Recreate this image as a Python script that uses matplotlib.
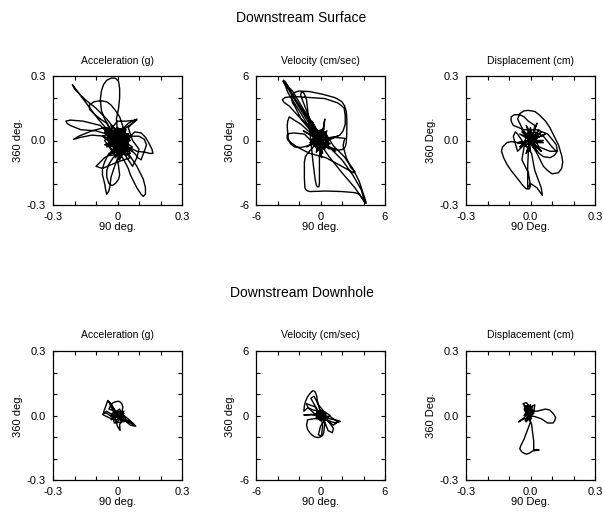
import numpy as np
import matplotlib
matplotlib.use("Agg")
import matplotlib.pyplot as plt

plt.rcParams['font.family'] = ['Liberation Sans', 'DejaVu Sans']

# particle motion paths, horizontal (90 deg.) vs vertical-plane (360 deg.) components
surf_acc = [
    (0.00, 0.00), (0.03, 0.02), (-0.02, 0.04), (-0.04, -0.01), (0.01, -0.05), (0.05, -0.01),
    (0.02, 0.05), (-0.05, 0.03), (-0.03, -0.04), (0.03, -0.06), (0.06, 0.02), (0.00, 0.06),
    (-0.06, 0.00), (-0.01, -0.07), (0.04, -0.03), (0.02, 0.03), (-0.03, 0.02), (0.01, -0.02),
    (-0.03, 0.05), (-0.06, 0.10), (-0.075, 0.14), (-0.08, 0.19), (-0.075, 0.23), (-0.065, 0.26),
    (-0.05, 0.28), (-0.03, 0.29), (-0.01, 0.29), (0.005, 0.275), (0.01, 0.24), (0.01, 0.20),
    (0.005, 0.15), (-0.005, 0.10), (0.00, 0.04),
    (0.04, 0.00), (-0.02, -0.03), (0.03, 0.04), (-0.04, 0.02), (0.02, -0.05),
    (-0.03, 0.03), (-0.09, 0.10), (-0.15, 0.18), (-0.21, 0.26), (-0.20, 0.24), (-0.15, 0.19),
    (-0.10, 0.15), (-0.05, 0.10), (-0.01, 0.05),
    (0.03, -0.02), (-0.03, -0.05), (0.05, 0.03), (-0.02, 0.01),
    (-0.08, 0.07), (-0.16, 0.09), (-0.22, 0.095), (-0.24, 0.09), (-0.235, 0.08), (-0.22, 0.07),
    (-0.17, 0.05), (-0.10, 0.045), (-0.05, 0.03), (0.00, 0.09), (0.04, 0.09), (0.09, 0.095),
    (0.04, 0.06), (0.01, 0.01), (-0.04, -0.02), (0.04, 0.02), (0.00, -0.04),
    (-0.06, 0.02), (-0.12, 0.025), (-0.17, 0.015), (-0.205, 0.005), (-0.18, 0.02), (-0.12, 0.045),
    (-0.06, 0.06), (-0.02, 0.02),
    (-0.05, 0.08), (-0.08, 0.10), (-0.11, 0.125), (-0.13, 0.145), (-0.13, 0.165),
    (-0.11, 0.18), (-0.08, 0.185), (-0.05, 0.18), (-0.03, 0.165), (-0.01, 0.14), (0.01, 0.11),
    (0.02, 0.08), (0.03, 0.05),
    (-0.03, 0.00), (0.02, -0.03), (0.05, 0.01),
    (0.08, 0.04), (0.11, 0.035), (0.13, 0.015), (0.145, -0.01), (0.16, -0.04), (0.165, -0.06),
    (0.15, -0.06), (0.13, -0.055), (0.09, -0.05), (0.05, -0.03), (0.02, 0.00),
    (0.06, 0.02), (0.10, 0.02), (0.125, 0.005), (0.135, -0.02), (0.125, -0.05), (0.115, -0.075),
    (0.11, -0.09), (0.095, -0.08), (0.08, -0.06), (0.03, -0.02), (-0.02, 0.03), (0.01, -0.04),
    (-0.04, -0.06),
    (-0.06, -0.10), (-0.07, -0.13), (-0.07, -0.16), (-0.06, -0.20), (-0.055, -0.23),
    (-0.05, -0.25), (-0.04, -0.235), (-0.035, -0.21), (-0.03, -0.17), (-0.01, -0.11), (0.01, -0.06),
    (0.03, -0.09), (0.05, -0.13), (0.06, -0.16), (0.08, -0.20), (0.09, -0.22), (0.11, -0.25),
    (0.12, -0.26), (0.13, -0.25), (0.13, -0.22), (0.12, -0.18), (0.09, -0.12), (0.05, -0.06),
    (0.02, -0.02),
    (-0.03, -0.01), (0.03, 0.03), (-0.01, -0.05),
    (-0.06, -0.08), (-0.10, -0.12), (-0.07, -0.13), (0.00, -0.10), (0.06, -0.08), (0.02, -0.04),
    (-0.02, -0.08), (-0.04, -0.11), (-0.05, -0.14), (-0.05, -0.17), (-0.04, -0.20),
    (-0.025, -0.21), (-0.01, -0.20), (0.005, -0.18), (0.01, -0.16), (0.005, -0.12), (0.00, -0.09),
    (0.03, -0.06), (0.07, -0.12), (0.09, -0.08), (0.10, -0.04), (0.07, 0.00),
    (0.05, 0.06), (0.09, 0.10), (0.05, 0.08), (0.00, 0.03),
    (0.05, -0.05), (-0.04, 0.04), (0.02, -0.08), (-0.06, 0.05), (0.07, -0.03), (-0.02, -0.06),
    (0.03, 0.06), (-0.07, 0.02), (0.04, -0.07), (0.00, 0.05), (-0.05, -0.03), (0.06, 0.00),
    (-0.03, 0.07), (0.01, -0.09), (0.05, 0.03), (-0.06, -0.02), (0.03, -0.04), (-0.02, 0.06),
    (0.06, -0.06), (-0.04, -0.07), (0.02, 0.02), (-0.05, 0.06), (0.07, -0.05), (0.00, -0.03),
    (-0.03, 0.03), (0.04, 0.05), (-0.01, -0.08), (0.05, -0.02), (-0.06, 0.04), (0.02, -0.05),
    (0.03, -0.01), (-0.02, 0.02), (0.02, 0.04), (-0.03, -0.02), (0.04, -0.04), (0.00, 0.00),
]

surf_vel = [
    (0.0, 0.0), (0.6, 0.5), (-0.5, 0.7), (-0.7, -0.4), (0.4, -0.8), (0.8, 0.2), (0.1, 0.9),
    (-0.8, 0.1), (-0.3, -0.9), (0.7, -0.5), (0.5, 0.7), (-0.6, -0.2), (0.0, -0.5), (0.4, 0.4),
    (-0.3, 0.4),
    (-1.0, 1.5), (-1.8, 2.8), (-2.6, 4.1), (-3.0, 4.8), (-3.3, 5.25), (-3.5, 5.5), (-3.45, 5.6),
    (-3.3, 5.5), (-3.1, 5.2), (-2.9, 4.8), (-2.5, 4.1), (-1.8, 3.0), (-1.0, 1.8), (-0.3, 0.6),
    (0.5, 0.1), (-0.4, -0.5), (0.3, 0.8), (-0.7, 0.3), (0.2, -0.6),
    (0.8, -0.6), (1.6, -0.9), (2.0, -0.85), (2.3, -0.6), (2.4, -0.2), (2.45, 0.8), (2.45, 2.0),
    (2.4, 2.7), (2.25, 3.2), (2.0, 3.6), (1.6, 3.85), (1.3, 4.0), (0.2, 4.3), (-1.0, 4.55),
    (-2.0, 4.6), (-2.35, 4.5), (-2.6, 4.2), (-2.7, 3.9), (-2.6, 3.5), (-2.4, 3.2), (-1.8, 2.0),
    (-1.0, 1.0), (-0.2, 0.1),
    (0.6, 0.4), (-0.5, -0.3), (0.2, 0.6),
    (-0.6, 1.2), (-1.2, 2.5), (-1.5, 3.3), (-1.7, 3.8), (-1.85, 4.25), (-1.8, 4.45),
    (-1.6, 4.5), (-1.45, 4.2), (-1.3, 3.8), (-1.1, 2.0), (-0.9, 0.0), (-0.7, -2.0), (-0.5, -3.6),
    (-0.4, -4.1), (-0.3, -4.3), (-0.15, -4.3), (-0.1, -4.0), (-0.1, -3.0), (-0.1, -1.5),
    (0.0, -0.3),
    (0.5, 0.6), (-0.6, 0.2), (0.3, -0.7), (0.7, 0.3),
    (1.2, -0.5), (2.2, -1.5), (3.0, -2.6), (3.6, -3.8), (4.0, -5.0), (4.2, -5.6), (4.25, -5.85),
    (4.1, -5.75), (3.9, -5.4), (3.6, -5.0), (3.2, -4.85), (2.0, -4.75), (0.5, -4.7),
    (-1.0, -4.75), (-1.3, -4.65), (-1.45, -4.4), (-1.5, -3.5), (-1.5, -2.0), (-1.4, -1.5),
    (-1.2, -1.2), (-0.5, -0.4),
    (-1.5, 0.6), (-2.5, 0.7), (-2.9, 0.65), (-3.1, 0.5), (-3.1, 0.2), (-3.0, 0.0), (-2.2, -0.6),
    (-1.0, -1.2), (0.5, -1.6), (1.8, -2.3), (2.7, -2.8), (3.1, -3.0), (3.2, -2.9), (2.8, -2.5),
    (2.4, -1.6), (2.1, -0.5), (2.2, 0.0), (2.3, 0.2), (1.2, 0.3), (0.3, 0.1),
    (-1.0, 1.2), (-2.0, 2.2), (-2.9, 3.2), (-3.4, 3.55), (-3.55, 3.8), (-3.3, 4.0), (-2.5, 4.1),
    (-1.0, 4.0), (0.4, 3.9), (1.6, 3.5), (2.0, 3.2), (2.2, 3.0), (2.3, 2.3), (2.3, 1.5),
    (2.1, 0.9), (1.8, 0.5), (0.9, 0.1),
    (-0.5, 0.3), (-1.8, 1.5), (-2.6, 2.0), (-2.9, 2.2), (-3.05, 1.8), (-3.1, 1.3), (-3.0, 0.2),
    (-2.8, -0.3), (-2.4, -0.6), (-1.8, -0.65), (-1.2, -0.5), (0.0, 0.0),
    (-0.2, 0.4), (-1.4, 2.6), (-2.6, 4.6), (-3.4, 5.4), (-3.0, 4.4), (-2.0, 2.8), (-0.6, 0.5),
    (0.8, -1.5), (2.0, -3.0), (3.2, -4.4), (4.1, -5.7), (3.8, -4.6), (3.0, -3.2), (2.0, -1.8),
    (1.0, -0.8), (0.2, -0.1),
    (-0.8, 1.8), (0.1, 0.2), (0.4, 2.0), (0.2, 0.1), (1.6, 0.4), (0.1, -0.1), (1.4, -1.0),
    (0.0, -0.2), (0.1, -1.6), (-0.1, 0.0), (-1.3, -0.6), (-0.2, 0.1), (-1.6, 0.9), (0.0, 0.0),
    (0.5, 0.5), (-0.4, 0.6), (-0.6, -0.4), (0.4, -0.6), (0.6, 0.2), (-0.2, 0.7), (-0.6, 0.0),
    (0.1, -0.7), (0.3, 0.3), (0.8, -0.8), (-0.9, 0.6), (0.3, 1.1), (-0.4, -1.1), (1.0, 0.3),
    (-1.0, -0.2), (0.6, 0.9), (-0.2, -0.7), (0.9, -0.3), (-0.7, 0.9), (0.2, -1.2), (0.0, 0.0),
]

surf_disp = [
    (0.00, 0.00), (0.03, 0.01), (-0.02, 0.03), (0.01, -0.03), (0.035, 0.02), (-0.03, -0.01),
    (0.00, 0.06), (0.01, 0.00), (0.05, 0.04), (0.00, -0.01), (0.06, -0.01), (0.00, 0.00),
    (0.04, -0.04), (-0.01, 0.01), (0.00, -0.05), (-0.01, 0.00), (-0.05, -0.03), (0.00, 0.01),
    (-0.05, 0.03), (0.00, 0.00), (-0.02, 0.07), (0.01, 0.02), (0.02, 0.07),
    (-0.01, 0.09), (-0.03, 0.11), (-0.05, 0.12), (-0.075, 0.12), (-0.09, 0.11), (-0.09, 0.09),
    (-0.08, 0.07), (-0.03, 0.05), (0.03, 0.05), (0.08, 0.03), (0.105, 0.0), (0.12, -0.02),
    (0.125, -0.05), (0.11, -0.07), (0.09, -0.08), (0.06, -0.075), (0.04, -0.06), (0.01, -0.02),
    (-0.03, 0.04), (-0.05, 0.08), (-0.06, 0.10), (-0.05, 0.125), (-0.03, 0.138), (-0.01, 0.14),
    (0.02, 0.135), (0.04, 0.12), (0.07, 0.09), (0.09, 0.06), (0.11, 0.02), (0.13, -0.02),
    (0.145, -0.07), (0.15, -0.10), (0.145, -0.13), (0.13, -0.15), (0.10, -0.155),
    (0.08, -0.14), (0.06, -0.12), (0.03, -0.06), (0.00, -0.01),
    (-0.02, -0.02), (-0.06, -0.01), (-0.09, -0.005), (-0.11, -0.01), (-0.13, -0.03),
    (-0.135, -0.05), (-0.125, -0.08), (-0.11, -0.11), (-0.09, -0.14), (-0.07, -0.165),
    (-0.05, -0.19), (-0.035, -0.21), (-0.02, -0.225), (-0.005, -0.225), (0.00, -0.21),
    (-0.005, -0.18), (-0.01, -0.15), (-0.025, -0.12), (-0.04, -0.09), (-0.03, -0.03),
    (0.00, 0.00),
    (-0.01, -0.05), (-0.013, -0.12), (-0.013, -0.22), (0.00, -0.20), (0.03, -0.22),
    (0.055, -0.255), (0.05, -0.22), (0.02, -0.14), (0.005, -0.06),
    (-0.04, 0.00), (-0.06, 0.03), (-0.07, 0.04), (-0.08, 0.02), (-0.075, 0.00), (-0.06, -0.05),
    (-0.03, -0.02),
    (0.02, 0.04), (0.06, 0.02), (0.10, -0.03), (0.12, -0.05), (0.09, -0.05), (0.04, -0.03),
    (-0.01, 0.05), (0.01, 0.00), (0.04, 0.05), (0.00, 0.00), (0.06, 0.00), (0.01, -0.01),
    (0.03, -0.05), (-0.01, 0.00), (-0.04, -0.02), (0.00, 0.01), (-0.04, 0.04), (0.00, 0.00),
    (0.03, 0.08), (0.00, 0.00), (0.07, 0.03), (0.00, 0.00), (0.05, -0.05), (0.00, 0.00),
    (-0.02, -0.06), (0.00, 0.00), (-0.06, -0.01), (0.00, 0.00), (-0.04, 0.05), (0.01, 0.01),
    (0.02, -0.02), (-0.02, 0.02), (0.03, 0.03), (-0.01, -0.03), (0.00, 0.00),
]

hole_acc = [
    (0.00, 0.00), (0.02, 0.01), (-0.02, 0.02), (-0.01, -0.02), (0.03, -0.01), (0.01, 0.03),
    (-0.03, 0.00), (0.00, -0.03), (0.03, 0.02), (-0.02, -0.01),
    (-0.05, 0.01), (-0.065, 0.015), (-0.045, 0.07), (-0.03, 0.055), (-0.01, 0.02),
    (-0.04, 0.03), (-0.03, 0.05), (-0.02, 0.06), (0.00, 0.066), (0.01, 0.065), (0.02, 0.055),
    (0.025, 0.04), (0.02, 0.01),
    (0.04, -0.02), (0.07, -0.035), (0.085, -0.05), (0.06, -0.045), (0.03, -0.02),
    (0.01, -0.04), (0.012, -0.07), (0.00, -0.05), (-0.01, -0.02),
    (-0.04, -0.01), (-0.07, 0.005), (-0.05, 0.02), (-0.02, 0.00),
    (0.03, 0.00), (0.06, -0.025), (0.08, -0.045), (0.05, -0.03), (0.00, -0.01),
    (-0.03, 0.04), (-0.04, 0.065), (-0.02, 0.035), (0.00, 0.00), (0.02, -0.03),
    (-0.015, -0.035), (-0.025, 0.01), (0.015, 0.02), (0.03, -0.03), (-0.01, 0.01),
    (0.02, 0.00), (-0.02, 0.03), (0.01, -0.02), (0.03, 0.01), (-0.03, -0.02), (0.00, 0.00),
]

hole_vel = [
    (0.0, 0.0), (0.4, 0.3), (-0.3, 0.4), (-0.4, -0.3), (0.3, -0.4), (0.5, 0.1), (0.0, 0.5),
    (-0.5, 0.1), (0.0, -0.5), (0.4, 0.2),
    (-0.6, 0.5), (-1.2, 0.7), (-1.55, 0.4), (-1.5, 0.9), (-1.4, 1.3), (-1.2, 1.75), (-1.0, 2.0),
    (-0.85, 2.2), (-0.7, 2.3), (-0.55, 2.25), (-0.45, 2.1), (-0.35, 1.8), (-0.3, 1.4),
    (-0.1, 0.6), (0.2, 0.0),
    (0.8, -0.3), (1.4, -0.4), (1.85, -0.55), (1.4, -0.7), (0.8, -0.5), (0.2, -0.2),
    (-0.6, -0.3), (-1.2, -0.4), (-1.3, -0.9), (-1.2, -1.3), (-1.0, -1.6), (-0.75, -1.85),
    (-0.5, -2.0), (-0.25, -2.05), (0.0, -2.0), (0.2, -1.85), (0.3, -1.6), (0.4, -0.8),
    (0.2, -0.1),
    (0.8, -0.6), (1.2, -1.2), (1.1, -1.6), (0.7, -1.4), (0.4, -0.6),
    (-0.5, 0.8), (-1.3, 1.1), (-1.2, 0.8), (-0.6, 0.2), (0.5, -0.4), (1.2, -0.9), (1.6, -0.6),
    (0.9, -0.1), (0.0, 0.0),
    (-0.9, 1.6), (-0.6, 1.8), (-0.2, 1.0), (0.3, 0.4), (0.9, 0.0), (0.5, -0.3), (0.0, -1.0),
    (-0.2, -1.8), (0.1, -1.9), (0.2, -0.9), (0.0, 0.1),
    (-1.55, 0.05), (-0.8, 0.1), (0.3, -0.2), (-0.2, 0.3), (0.2, 0.2), (0.6, -0.2),
    (-0.3, -0.2), (0.1, 0.4), (0.0, 0.0),
]

hole_disp = [
    (0.00, 0.00), (-0.02, 0.02), (-0.01, -0.02), (0.01, 0.03), (-0.03, 0.00), (0.00, 0.05),
    (-0.02, -0.03), (0.01, 0.01), (-0.035, 0.055), (-0.02, 0.06), (0.00, 0.04), (0.02, 0.05),
    (0.015, 0.01), (-0.01, -0.01), (-0.04, -0.02), (-0.055, -0.03), (-0.03, -0.01),
    (0.00, 0.02), (0.03, 0.02),
    (0.05, 0.025), (0.07, 0.03), (0.09, 0.025), (0.10, 0.015), (0.112, 0.0), (0.117, -0.01),
    (0.112, -0.025), (0.105, -0.035), (0.08, -0.035), (0.05, -0.015), (0.02, -0.005),
    (-0.01, 0.00),
    (0.00, -0.03), (-0.015, -0.07), (-0.03, -0.11), (-0.045, -0.14), (-0.05, -0.155),
    (-0.04, -0.17), (-0.02, -0.18), (-0.005, -0.175), (0.01, -0.165), (0.04, -0.16),
    (0.015, -0.16), (0.015, -0.12), (0.01, -0.08), (0.005, -0.04), (-0.01, -0.01),
    (-0.03, 0.03), (-0.01, 0.05), (0.00, 0.00), (-0.025, -0.025), (0.01, 0.02),
    (-0.02, 0.04), (0.005, -0.015), (-0.02, 0.01), (0.01, 0.04), (-0.03, 0.045),
    (0.0, -0.02), (-0.01, 0.00),
]

row_titles = ["Downstream Surface", "Downstream Downhole"]
panel_titles = ["Acceleration (g)", "Velocity (cm/sec)", "Displacement (cm)"]
xlabels = ["90 deg.", "90 deg.", "90 Deg."]
ylabels = ["360 deg.", "360 deg.", "360 Deg."]
limits = [0.3, 6, 0.3]
tick_text_x = [["-0.3", "0", "0.3"], ["-6", "0", "6"], ["-0.3", "0.0", "0.3"]]
tick_text_y = [["-0.3", "0.0", "0.3"], ["-6", "0", "6"], ["-0.3", "0.0", "0.3"]]
paths = [[surf_acc, surf_vel, surf_disp], [hole_acc, hole_vel, hole_disp]]

fig = plt.figure(figsize=(6.03, 5.16), dpi=100)

W, H = 603.0, 516.0
lefts = [53, 256, 466]
tops = [76, 351]
size = 129

for r in range(2):
    fig.text(0.5, 1 - (18 + 275 * r) / H, row_titles[r], ha='center', va='center', fontsize=10)
    for c in range(3):
        ax = fig.add_axes([lefts[c] / W, 1 - (tops[r] + size) / H, size / W, size / H])
        pts = np.array(paths[r][c])
        ax.plot(pts[:, 0], pts[:, 1], color='black', lw=1.0)
        lim = limits[c]
        ticks = np.linspace(-lim, lim, 7)
        xl = [tick_text_x[c][0], '', '', tick_text_x[c][1], '', '', tick_text_x[c][2]]
        yl = [tick_text_y[c][0], '', '', tick_text_y[c][1], '', '', tick_text_y[c][2]]
        ax.set_xlim(-lim, lim)
        ax.set_ylim(-lim, lim)
        ax.set_xticks(ticks)
        ax.set_xticklabels(xl)
        ax.set_yticks(ticks)
        ax.set_yticklabels(yl)
        ax.tick_params(direction='in', top=True, right=True, length=3, width=0.8,
                       labelsize=8, pad=5)
        for s in ax.spines.values():
            s.set_linewidth(0.9)
        ax.set_title(panel_titles[c], fontsize=7.5, pad=9)
        ax.set_xlabel(xlabels[c], fontsize=8, labelpad=0)
        ax.set_ylabel(ylabels[c], fontsize=8, labelpad=3)

fig.savefig("out.png", dpi=100)
